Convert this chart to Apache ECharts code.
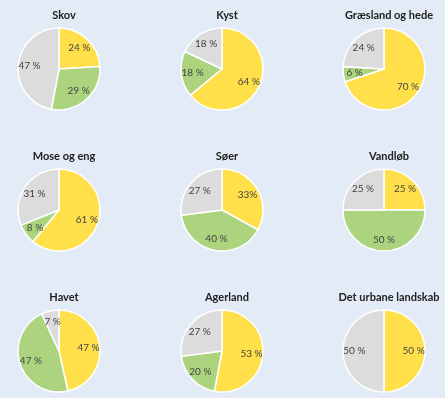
<!DOCTYPE html>
<html>
<head>
<meta charset="utf-8">
<script src="https://cdn.jsdelivr.net/npm/echarts@6/dist/echarts.min.js"></script>
<style>
  html, body { margin: 0; padding: 0; background: #e3ebf6; }
  #chart { width: 445px; height: 398px; }
</style>
</head>
<body>
<div id="chart"></div>
<script>
// data
var categories = ["Skov", "Kyst", "Græsland og hede", "Mose og eng", "Søer", "Vandløb", "Havet", "Agerland", "Det urbane landskab"];
var yellowVals = [24, 64, 70, 61, 33, 25, 47, 53, 50];
var greenVals  = [29, 18, 6, 8, 40, 50, 47, 20, 0];
var grayVals   = [47, 18, 24, 31, 27, 25, 7, 27, 50];

var colors = ["#ffe04b", "#acd47f", "#dcdcdc"];
var colX = [59, 222, 384];
var rowY = [69, 210, 351];
var R = 41;

var myChart = echarts.init(document.getElementById("chart"));

var titles = [];
var series = [];
categories.forEach(function (name, i) {
  var cx = colX[i % 3], cy = rowY[Math.floor(i / 3)];
  var vals = [yellowVals[i], greenVals[i], grayVals[i]];
  var data = vals.map(function (v, k) {
    return { value: v, name: ["gul", "grøn", "grå"][k], itemStyle: { color: colors[k] } };
  });
  titles.push({
    text: name,
    left: cx, top: cy - 64,
    textAlign: "center",
    textStyle: { fontFamily: "Lato", fontSize: 11, fontWeight: "bold", color: "#222" }
  });
  // the pie itself
  series.push({
    type: "pie",
    center: [cx, cy],
    radius: [0, R],
    startAngle: 90,
    silent: true,
    label: { show: false },
    itemStyle: { borderColor: "#fff", borderWidth: 1.5 },
    data: data
  });
  // transparent ring just for placing the labels a bit further out
  series.push({
    type: "pie",
    center: [cx, cy],
    radius: [R * 0.3, R],
    startAngle: 90,
    silent: true,
    itemStyle: { color: "transparent" },
    label: {
      show: true,
      position: "inside",
      fontFamily: "Lato",
      fontSize: 10,
      color: "#444",
      formatter: function (p) {
        if (p.value === 0) return "";
        return name === "Søer" && p.dataIndex === 0 ? p.value + "%" : p.value + " %";
      }
    },
    data: vals.map(function (v) { return { value: v, itemStyle: { color: "transparent" } }; })
  });
});

option = {
  backgroundColor: "#e3ebf6",
  animation: false,
  title: titles,
  series: series
};

myChart.setOption(option);
</script>
</body>
</html>
